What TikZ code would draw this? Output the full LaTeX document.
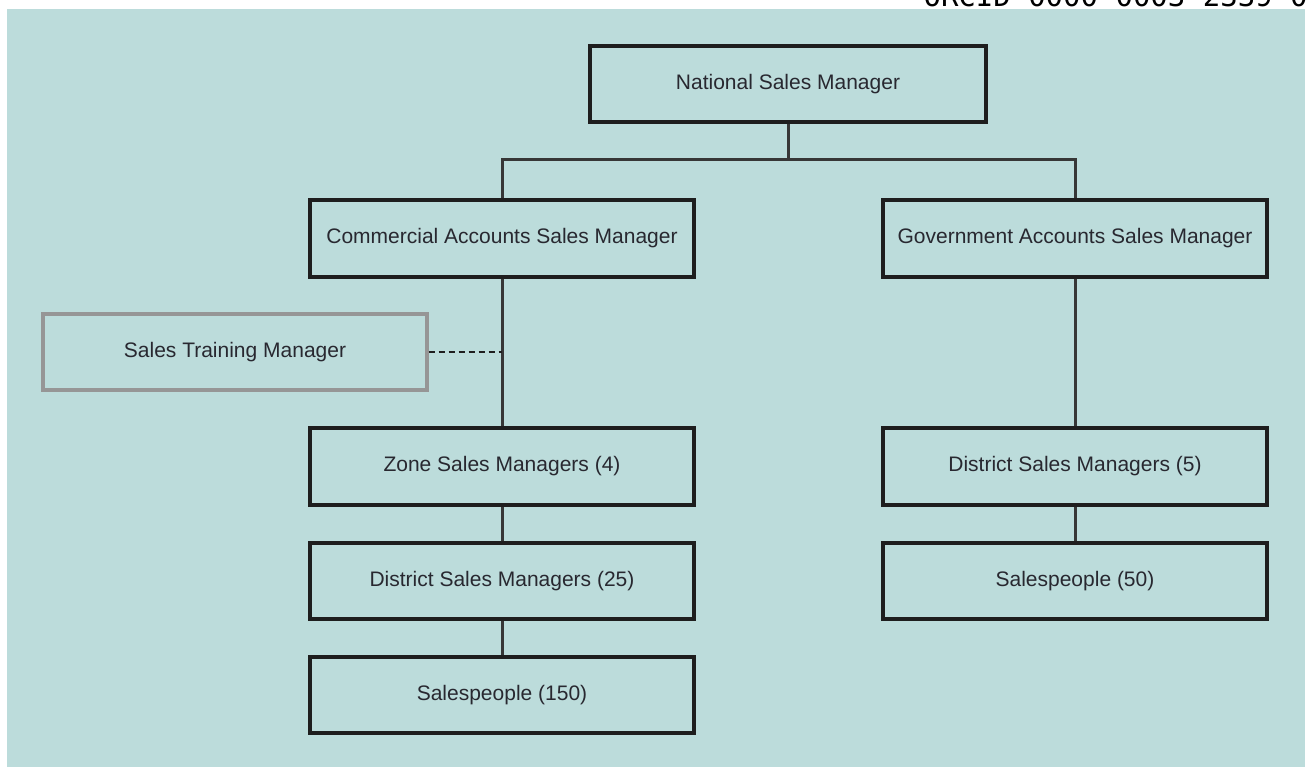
\documentclass[tikz,border=0pt]{standalone}
\usepackage{fontspec}
\setmainfont{Liberation Sans}
\newfontfamily\monofont{DejaVu Sans Mono}
\definecolor{bgteal}{RGB}{188,220,219}
\definecolor{boxline}{RGB}{30,30,30}
\definecolor{connline}{RGB}{55,55,55}
\definecolor{grayline}{RGB}{150,150,150}
\definecolor{txt}{RGB}{40,40,48}
\begin{document}
\begin{tikzpicture}[x=1pt,y=-1pt,
  orgbox/.style={draw=boxline,line width=3.2pt,minimum width=384pt,minimum height=76pt,
    inner sep=0pt,text=txt,font=\fontsize{21}{25}\selectfont},
  graybox/.style={orgbox,draw=grayline},
  conn/.style={draw=connline,line width=3pt},
  dashconn/.style={draw=boxline,line width=2.2pt,dash pattern=on 6pt off 4pt}]
\useasboundingbox (0,0) rectangle (1307,767);
\fill[white] (0,0) rectangle (1307,767);
\fill[bgteal] (7,9) rectangle (1305,767);
\node[anchor=base west,font=\monofont\fontsize{29}{32}\selectfont,text=black] (orcid) at (920,7) {ORCID 0000-0003-2339-0};
\node[orgbox,minimum width=396pt] (nat) at (788,84) {National Sales Manager};
\node[orgbox,minimum height=77pt] (com) at (502,238.5) {Commercial Accounts Sales Manager};
\node[orgbox,minimum height=77pt] (gov) at (1075,238.5) {Government Accounts Sales Manager};
\node[graybox] (trn) at (235,352) {Sales Training Manager};
\node[orgbox,minimum height=77pt] (zone) at (502,466.5) {Zone Sales Managers (4)};
\node[orgbox] (d25) at (502,581) {District Sales Managers (25)};
\node[orgbox] (s150) at (502,695) {Salespeople (150)};
\node[orgbox,minimum height=77pt] (d5) at (1075,466.5) {District Sales Managers (5)};
\node[orgbox] (s50) at (1075,581) {Salespeople (50)};
\coordinate (bar) at (788,160);
\coordinate (tj) at (502,352);
\draw[conn] (nat.south) -- (bar);
\draw[conn] (bar) -| (com.north);
\draw[conn] (bar) -| (gov.north);
\draw[conn] (com.south) -- (zone.north);
\draw[conn] (zone.south) -- (d25.north);
\draw[conn] (d25.south) -- (s150.north);
\draw[conn] (gov.south) -- (d5.north);
\draw[conn] (d5.south) -- (s50.north);
\draw[dashconn] (trn.east) -- (tj);
\end{tikzpicture}
\end{document}
